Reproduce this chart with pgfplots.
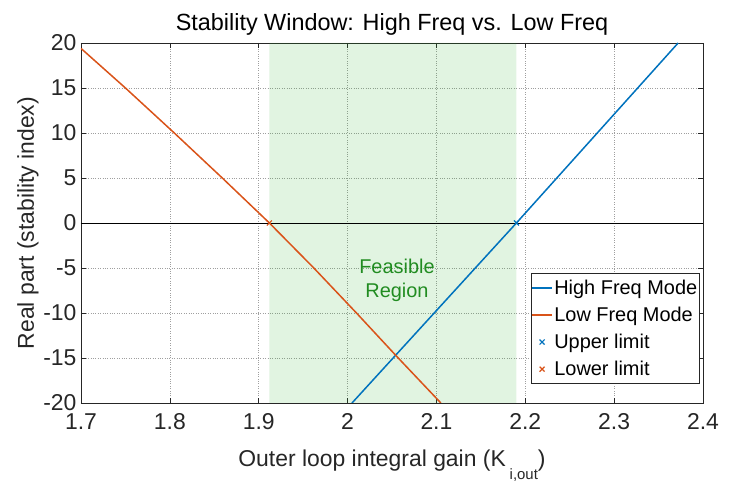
\documentclass[border=0pt]{standalone}
\usepackage{fontspec}
\setmainfont{Liberation Sans}
\usepackage{pgfplots}
\pgfplotsset{compat=1.18}
\definecolor{mblue}{rgb}{0,0.447,0.741}
\definecolor{lorange}{rgb}{0.85,0.325,0.098}
\definecolor{axgray}{rgb}{0.15,0.15,0.15}
\definecolor{fgreen}{rgb}{0.13,0.55,0.13}
\definecolor{shade}{rgb}{0.2,0.7,0.2}
\begin{document}
\begin{tikzpicture}[x=1bp,y=1bp]
\path[use as bounding box] (-81,-90) rectangle (658,403);
\begin{axis}[
  at={(0,0)}, anchor=south west,
  scale only axis, width=622bp, height=360bp,
  xmin=1.7, xmax=2.4, ymin=-20, ymax=20,
  xtick={1.7,1.8,1.9,2,2.1,2.2,2.3,2.4},
  xticklabels={1.7,1.8,1.9,2,2.1,2.2,2.3,2.4},
  ytick={-20,-15,-10,-5,0,5,10,15,20},
  grid=major,
  major grid style={dotted, gray!75, line width=0.5bp},
  axis line style={axgray, line width=0.6bp},
  tick style={axgray, line width=0.6bp},
  major tick length=5bp,
  tick align=inside,
  /pgf/number format/assume math mode=true,
  ticklabel style={font=\fontsize{23}{24}\selectfont, text=axgray},
  xticklabel style={yshift=-7bp},
  yticklabel style={xshift=-1bp},
  title={Stability Window: High Freq vs. Low Freq},
  title style={font=\fontsize{23.5}{24}\selectfont, text=black, yshift=-2bp},
  xlabel={Outer loop integral gain (K\,\raisebox{-13bp}{\fontsize{15}{15}\selectfont i,out})},
  xlabel style={font=\fontsize{23}{24}\selectfont, text=axgray, yshift=-13bp},
  ylabel={Real part (stability index)},
  ylabel style={font=\fontsize{23}{24}\selectfont, text=axgray, yshift=-2bp},
  legend style={at={(rel axis cs:0.9944,0.36)}, anchor=north east,
    font=\fontsize{20}{20}\selectfont, draw=axgray, line width=0.6bp,
    inner sep=0.5bp, fill=white, row sep=0bp,
    nodes={inner xsep=1.5bp, inner ysep=5.6bp}},
  legend cell align=left,
  legend image code/.code={\draw[mark repeat=2,mark phase=2] plot coordinates {(0bp,0bp)(10bp,0bp)(20bp,0bp)};},
]
% feasible region
\addplot[draw=none, fill=shade, fill opacity=0.15, forget plot]
  coordinates {(1.912,-20) (2.19,-20) (2.19,20) (1.912,20) (1.912,-20)};
% zero line
\addplot[black, line width=0.8bp, forget plot] coordinates {(1.7,0) (2.4,0)};
% High freq mode
\addplot[mblue, line width=1.5bp] coordinates {
  (2.005,-20) (2.19,0) (2.372,20)};
\addlegendentry{High Freq Mode\strut}
% Low freq mode
\addplot[lorange, line width=1.5bp] coordinates {
  (1.7,19.4) (1.75,15) (1.805,10) (1.859,5) (1.912,0) (1.962,-5) (2.01,-10) (2.057,-15) (2.105,-20)};
\addlegendentry{Low Freq Mode\strut}
\addplot[only marks, mark=x, mark size=3.5bp, mblue, line width=1.2bp] coordinates {(2.19,0)};
\addlegendentry{Upper limit\strut}
\addplot[only marks, mark=x, mark size=3.5bp, lorange, line width=1.2bp] coordinates {(1.912,0)};
\addlegendentry{Lower limit\strut}
\node[font=\fontsize{20}{24}\selectfont, text=fgreen, align=center] at (axis cs:2.0556,-6.4) {Feasible\\Region};
\end{axis}
\end{tikzpicture}
\end{document}
